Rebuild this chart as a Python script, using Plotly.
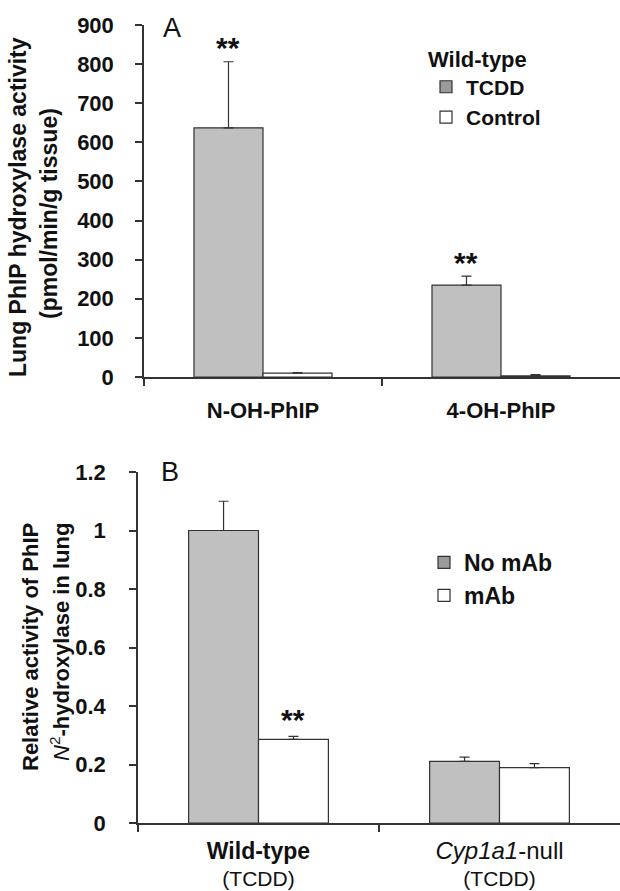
import plotly.graph_objects as go

# ---------------- data ----------------
cats_a = ["N-OH-PhIP", "4-OH-PhIP"]
tcdd_vals = [637, 235]
tcdd_err = [169, 23]
control_vals = [10, 3]
control_err = [1, 3]
sig_a = ["**", "**"]          # over TCDD bars

cats_b = ["<span style='font-size:23px'><b>Wild-type</b></span><br>(TCDD)",
          "<span style='font-size:24px'><i>Cyp1a1</i>-null</span><br>(TCDD)"]
nomab_vals = [1.0, 0.211]
nomab_err = [0.10, 0.014]
mab_vals = [0.286, 0.189]
mab_err = [0.010, 0.014]
sig_b = ["**", ""]            # over mAb bars

W, H = 620, 891
FONT = "Arial, Liberation Sans, sans-serif"
GRAY = "#c0c0c0"
SWATCH_GRAY = "#9a9a9a"
LINE = "#333333"
BARGAP = 0.42
BW = (1 - BARGAP) / 2       # width of one bar in category units

def px_x(p):
    return p / W

def px_y(p):
    return 1 - p / H

fig = go.Figure()

xa = list(range(len(cats_a)))
xb = list(range(len(cats_b)))

def bar(x, y, err, name, color, xaxis, yaxis, offset):
    return go.Bar(x=x, y=y, name=name, width=BW, offset=offset, showlegend=False,
                  marker=dict(color=color, line=dict(color=LINE, width=1.2)),
                  error_y=dict(type="data", symmetric=False, array=err, arrayminus=[0]*len(x),
                               color=LINE, thickness=1.2, width=5),
                  xaxis=xaxis, yaxis=yaxis)

def key(name, color, xaxis, yaxis, legend):
    return go.Bar(x=[None], y=[None], name=name, width=BW, offset=0,
                  marker=dict(color=color, line=dict(color=LINE, width=1.2)),
                  xaxis=xaxis, yaxis=yaxis, legend=legend, hoverinfo="skip")

fig.add_trace(bar(xa, tcdd_vals, tcdd_err, "TCDD", GRAY, "x", "y", -BW))
fig.add_trace(bar(xa, control_vals, control_err, "Control", "white", "x", "y", 0))
fig.add_trace(bar(xb, nomab_vals, nomab_err, "No mAb", GRAY, "x2", "y2", -BW))
fig.add_trace(bar(xb, mab_vals, mab_err, "mAb", "white", "x2", "y2", 0))
fig.add_trace(key("TCDD", SWATCH_GRAY, "x", "y", "legend"))
fig.add_trace(key("Control", "white", "x", "y", "legend"))
fig.add_trace(key("No mAb", SWATCH_GRAY, "x2", "y2", "legend2"))
fig.add_trace(key("mAb", "white", "x2", "y2", "legend2"))

annots = []
for i, s in enumerate(sig_a):
    if s:
        annots.append(dict(x=i - BW / 2, y=tcdd_vals[i] + tcdd_err[i], xref="x", yref="y", text="<b>" + s + "</b>",
                           showarrow=False, xanchor="center", yanchor="middle", yshift=14,
                           font=dict(family=FONT, size=30, color="#111")))
for i, s in enumerate(sig_b):
    if s:
        annots.append(dict(x=i + BW / 2, y=mab_vals[i] + mab_err[i], xref="x2", yref="y2", text="<b>" + s + "</b>",
                           showarrow=False, xanchor="center", yanchor="middle", yshift=17,
                           font=dict(family=FONT, size=30, color="#111")))

def paper_text(x, y, text, size, angle=0):
    return dict(x=px_x(x), y=px_y(y), xref="paper", yref="paper", text=text, showarrow=False,
                xanchor="center", yanchor="middle", textangle=angle,
                font=dict(family=FONT, size=size, color="#111"))

# panel letters
annots.append(paper_text(172, 28, "A", 27))
annots.append(paper_text(170, 472, "B", 27))

# y titles (two lines each)
annots.append(paper_text(18, 207, "<b>Lung PhIP hydroxylase activity</b>", 23, -90))
annots.append(paper_text(49, 213, "<b>(pmol/min/g tissue)</b>", 23, -90))
annots.append(paper_text(30, 647, "<b>Relative activity of PhIP</b>", 22, -90))
annots.append(paper_text(60, 642, "<i>N</i><sup>2</sup><b>-hydroxylase in lung</b>", 22, -90))

tickfont = dict(family=FONT, size=22, color="#111", weight="bold")

xcommon = dict(range=[-0.5, len(cats_a) - 0.5], showline=True, linecolor=LINE, linewidth=1.5,
               ticks="", showgrid=False, zeroline=False, fixedrange=True, automargin=False,
               minor=dict(tickvals=[-0.5, 0.5], ticks="outside", ticklen=7, tickwidth=1.5, tickcolor=LINE,
                          showgrid=False))
ycommon = dict(showline=True, linecolor=LINE, linewidth=1.5, ticks="outside", ticklen=7, tickwidth=1.5,
               tickcolor=LINE, showgrid=False, zeroline=False, tickfont=tickfont,
               automargin=False, fixedrange=True)

fig.update_layout(
    width=W, height=H,
    margin=dict(l=0, r=0, t=0, b=0, autoexpand=False),
    paper_bgcolor="white", plot_bgcolor="white",
    barmode="overlay",
    font=dict(family=FONT, color="#111"),
    xaxis=dict(domain=[px_x(144), 1], anchor="y", tickvals=xa, ticktext=cats_a,
               tickfont=dict(family=FONT, size=22, color="#111", weight="bold"), ticklabelstandoff=13,
               **xcommon),
    yaxis=dict(domain=[px_y(377), px_y(25)], anchor="x", range=[0, 900], dtick=100,
               ticklabelstandoff=17, **ycommon),
    xaxis2=dict(domain=[px_x(138), 1], anchor="y2", tickvals=xb, ticktext=cats_b,
                tickfont=dict(family=FONT, size=21, color="#111"), ticklabelstandoff=9,
                **xcommon),
    yaxis2=dict(domain=[px_y(823), px_y(472)], anchor="x2", range=[0, 1.2], dtick=0.2,
                ticklabelstandoff=19, **ycommon),
    legend=dict(x=px_x(426), y=px_y(38), xanchor="left", yanchor="top", bgcolor="rgba(0,0,0,0)",
                title=dict(text="Wild-type", font=dict(family=FONT, size=22, weight="bold", color="#111")),
                font=dict(family=FONT, size=21, weight="bold", color="#111"), tracegroupgap=0),
    legend2=dict(x=px_x(424), y=px_y(541), xanchor="left", yanchor="top", bgcolor="rgba(0,0,0,0)",
                 font=dict(family=FONT, size=23, weight="bold", color="#111"), tracegroupgap=0),
    annotations=annots,
    showlegend=True,
)

fig.write_html("out.html", config={"responsive": False, "displayModeBar": False},
               post_script="document.body.style.margin='0';document.body.style.overflow='hidden';")
